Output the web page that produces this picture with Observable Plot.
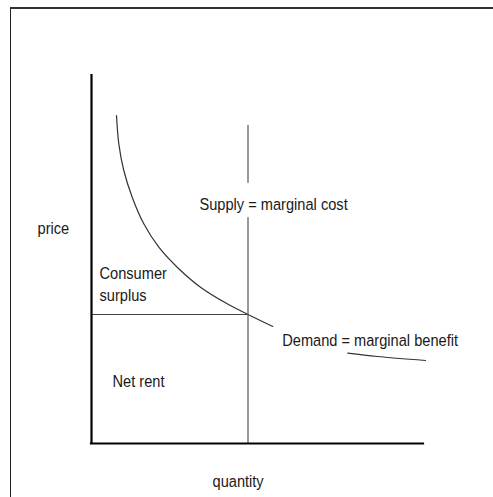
<!DOCTYPE html>
<html>
<head>
<meta charset="utf-8">
<script src="https://cdn.jsdelivr.net/npm/d3@7"></script>
<script src="https://cdn.jsdelivr.net/npm/@observablehq/plot@0.6"></script>
<style>
  html, body { margin: 0; padding: 0; background: #fff; overflow: hidden; }
  #wrap { position: relative; width: 493px; height: 497px; }
  #frame { position: absolute; left: 10px; top: 7px; width: 500px; height: 500px;
           border-top: 2px solid #333; border-left: 1.5px solid #222; box-sizing: border-box; }
  #chart { position: absolute; left: 0; top: 0; }
</style>
</head>
<body>
<div id="wrap"><div id="frame"></div><div id="chart"></div></div>
<script>
// Coordinates in arbitrary "diagram units" (quantity, price)
const demandQ = [25, 27.3, 32.3, 40.7, 52.3, 67.3, 85.7, 109, 135.7, 156.5, 181.3, 256.3, 285.7, 334];
const demandP = [328, 299.7, 273, 246.3, 219.7, 196.3, 176.3, 156.3, 139.7, 129, 117, 90.3, 87, 83];
const demandSeg = [1, 1, 1, 1, 1, 1, 1, 1, 1, 1, 1, 2, 2, 2];

const supplyQ = 156.5;                 // vertical supply line position
const supplyP1 = [0, 260.3];           // segment starts
const supplyP2 = [225.7, 318];         // segment ends
const equilibriumP = 129;              // horizontal price line

const labelText = ["price", "quantity", "Consumer\nsurplus", "Net rent", "Supply = marginal cost", "Demand = marginal benefit"];
const labelQ = [-54, 121, 8, 21, 108, 190.7];
const labelP = [224.4, -29, 179, 71, 248.5, 112.7];

const demand = demandQ.map((q, i) => ({q, p: demandP[i], seg: demandSeg[i]}));
const supply = supplyP1.map((p1, i) => ({q: supplyQ, p1, p2: supplyP2[i]}));
const labels = labelText.map((t, i) => ({t, q: labelQ[i], p: labelP[i]}));

const chart = Plot.plot({
  width: 493,
  height: 497,
  marginLeft: 91,
  marginRight: 70,
  marginTop: 75,
  marginBottom: 54,
  x: {domain: [0, 332], axis: null},
  y: {domain: [0, 368], axis: null},
  style: {fontFamily: "'Liberation Sans', Arial, sans-serif", background: "transparent"},
  marks: [
    Plot.line(demand, {x: "q", y: "p", z: "seg", curve: "catmull-rom", stroke: "#333", strokeWidth: 1.2}),
    Plot.ruleX(supply, {x: "q", y1: "p1", y2: "p2", stroke: "#555", strokeWidth: 1.2}),
    Plot.ruleY([equilibriumP], {x1: 0, x2: supplyQ, stroke: "#444", strokeWidth: 1.2}),
    Plot.ruleX([0], {stroke: "#000", strokeWidth: 2.2, strokeLinecap: "square"}),
    Plot.ruleY([0], {stroke: "#000", strokeWidth: 2.2, strokeLinecap: "square"}),
    Plot.text(labels, {x: "q", y: "p", text: "t", textAnchor: "start", lineAnchor: "top",
      lineHeight: 1.24, fontSize: 17, fill: "#1a1a1a"})
  ]
});

// narrow the type horizontally, like the reference's condensed face
d3.select(chart).selectAll("text").each(function() {
  const el = d3.select(this);
  const tr = el.attr("transform");
  if (tr) el.attr("transform", tr + " scale(0.86,1)");
  else {
    const x = +el.attr("x") || 0;
    el.attr("transform", `translate(${x},0) scale(0.86,1) translate(${-x},0)`);
  }
});

document.getElementById("chart").appendChild(chart);
</script>
</body>
</html>
